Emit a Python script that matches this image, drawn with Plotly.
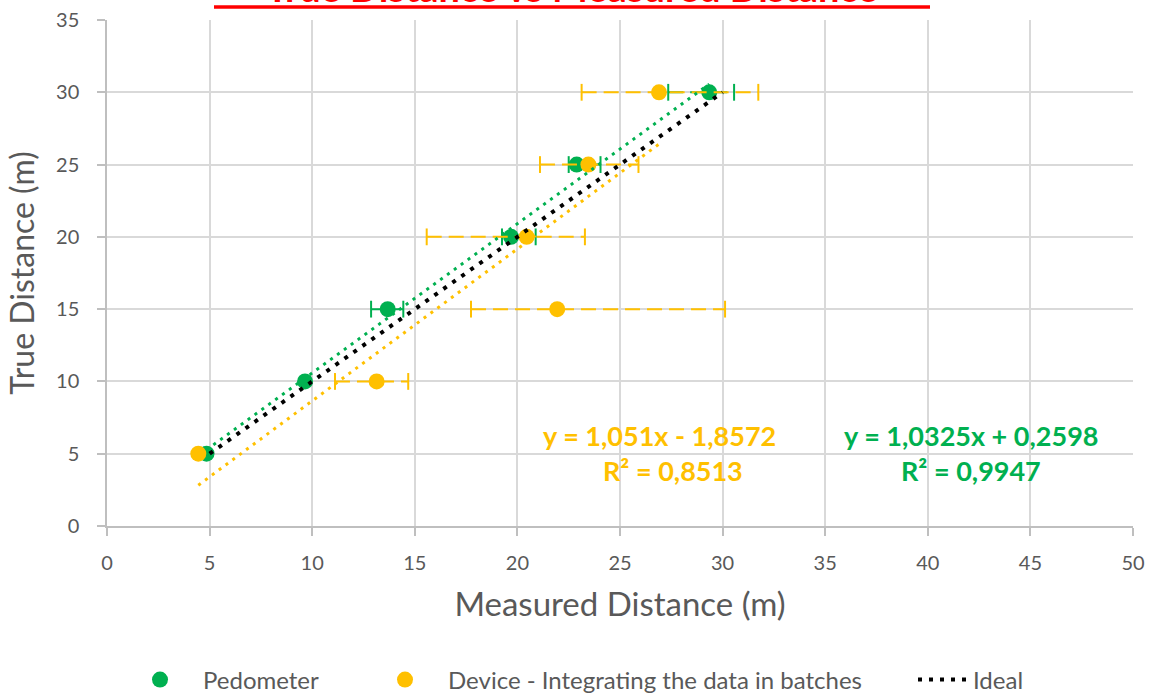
import plotly.graph_objects as go

# ---------------- data ----------------
true_dist = [5, 10, 15, 20, 25, 30]

ped_x = [4.85, 9.65, 13.68, 19.69, 22.89, 29.35]
ped_lo = [None, None, 12.87, 19.25, 22.50, 27.35]
ped_hi = [None, None, 14.44, 20.89, 24.05, 30.56]

dev_x = [4.45, 13.14, 21.94, 20.45, 23.46, 26.90]
dev_lo = [None, 11.11, 17.74, 15.58, 21.10, 23.13]
dev_hi = [None, 14.68, 30.12, 23.29, 25.90, 31.74]

ideal_x = [5, 30]
ideal_y = [5, 30]

# trendline coefficients (slope, intercept) as printed on the chart
ped_fit = (1.0325, 0.2598)
dev_fit = (1.051, -1.8572)

x_ticks = [0, 5, 10, 15, 20, 25, 30, 35, 40, 45, 50]
y_ticks = [0, 5, 10, 15, 20, 25, 30, 35]

GREEN = "#00b050"
ORANGE = "#ffc000"
TXT = "#595959"
FONT = "Lato"

fig = go.Figure()


def add_errbars(xs, lo, hi, ys, color):
    for x, l, h, y in zip(xs, lo, hi, ys):
        if l is None:
            continue
        fig.add_trace(go.Scatter(
            x=[l, h], y=[y, y], mode="lines",
            line=dict(color=color, width=2, dash="15px,7px"),
            showlegend=False, hoverinfo="skip"))
        fig.add_trace(go.Scatter(
            x=[l, h], y=[y, y], mode="markers",
            marker=dict(symbol="line-ns", size=12,
                        line=dict(color=color, width=2)),
            showlegend=False, hoverinfo="skip"))


# pedometer
add_errbars(ped_x, ped_lo, ped_hi, true_dist, GREEN)
fig.add_trace(go.Scatter(
    x=ped_x, y=true_dist, mode="markers", name="Pedometer",
    marker=dict(color=GREEN, size=16), legend="legend"))

# device
add_errbars(dev_x, dev_lo, dev_hi, true_dist, ORANGE)
fig.add_trace(go.Scatter(
    x=dev_x, y=true_dist, mode="markers",
    name="Device - Integrating the data in batches",
    marker=dict(color=ORANGE, size=16), legend="legend2"))

# trendlines
for xs, (m, b), color in [(ped_x, ped_fit, GREEN), (dev_x, dev_fit, ORANGE)]:
    x0, x1 = min(xs), max(xs)
    fig.add_trace(go.Scatter(
        x=[x0, x1], y=[m * x0 + b, m * x1 + b], mode="lines",
        line=dict(color=color, width=3, dash="3px,5.5px"),
        showlegend=False, hoverinfo="skip"))

# ideal
fig.add_trace(go.Scatter(
    x=ideal_x, y=ideal_y, mode="lines", name="Ideal",
    line=dict(color="black", width=4, dash="4px,7px"), legend="legend3"))

L, R, T, B = 107, 20, 20, 169
W, H = 1153, 695
PW, PH = W - L - R, H - T - B


def px(xp):
    return (xp - L) / PW


def py(yp):
    return (H - B - yp) / PH


ann_font_o = dict(family=FONT, size=27, color=ORANGE)
ann_font_g = dict(family=FONT, size=27, color=GREEN)
annotations = [
    dict(x=px(659), y=py(435), text="<b>y = 1,051x - 1,8572</b>", font=ann_font_o),
    dict(x=px(673), y=py(470), text="<b>R² = 0,8513</b>", font=ann_font_o),
    dict(x=px(971), y=py(435), text="<b>y = 1,0325x + 0,2598</b>", font=ann_font_g),
    dict(x=px(971), y=py(470), text="<b>R² = 0,9947</b>", font=ann_font_g),
    dict(x=px(572), y=py(12), yanchor="bottom",
         text="<b>True Distance vs Measured Distance</b>",
         font=dict(family=FONT, size=38, color="red")),
]
for a in annotations:
    a.setdefault("xref", "paper")
    a.setdefault("yref", "paper")
    a.setdefault("showarrow", False)
    a.setdefault("xanchor", "center")
    a.setdefault("yanchor", "middle")

shapes = [dict(type="line", xref="paper", yref="paper",
               x0=px(214), x1=px(930), y0=py(7), y1=py(7),
               line=dict(color="red", width=3.5))]

axis_common = dict(
    showgrid=True, gridcolor="#d9d9d9", gridwidth=1.5,
    showline=True, linecolor="#bfbfbf", linewidth=1.5,
    ticks="outside", ticklen=8, tickcolor="#bfbfbf", tickwidth=1.5,
    tickfont=dict(family=FONT, size=20, color=TXT),
    zeroline=False, automargin=False,
)


def cx(xp):
    return xp / W


def cy(yp):
    return 1 - yp / H


leg_common = dict(xref="container", yref="container", xanchor="left", yanchor="middle",
                  orientation="h", font=dict(family=FONT, size=24, color=TXT),
                  bgcolor="rgba(0,0,0,0)")
fig.update_layout(
    width=W, height=H,
    margin=dict(l=L, r=R, t=T, b=B, autoexpand=False),
    plot_bgcolor="white", paper_bgcolor="white",
    xaxis=dict(range=[0, 50], tickvals=x_ticks,
               title=dict(text="Measured Distance (m)",
                          font=dict(family=FONT, size=33, color=TXT), standoff=20),
               ticklabelstandoff=10, **axis_common),
    yaxis=dict(range=[0, 35], tickvals=y_ticks,
               title=dict(text="True Distance (m)",
                          font=dict(family=FONT, size=32, color=TXT), standoff=12),
               ticklabelstandoff=14, **axis_common),
    legend=dict(x=cx(117), y=cy(680), itemwidth=76, **leg_common),
    legend2=dict(x=cx(362), y=cy(680), itemwidth=76, **leg_common),
    legend3=dict(x=cx(913), y=cy(680), itemwidth=50, **leg_common),
    annotations=annotations,
    shapes=shapes,
)

fig.write_html("out.html")
